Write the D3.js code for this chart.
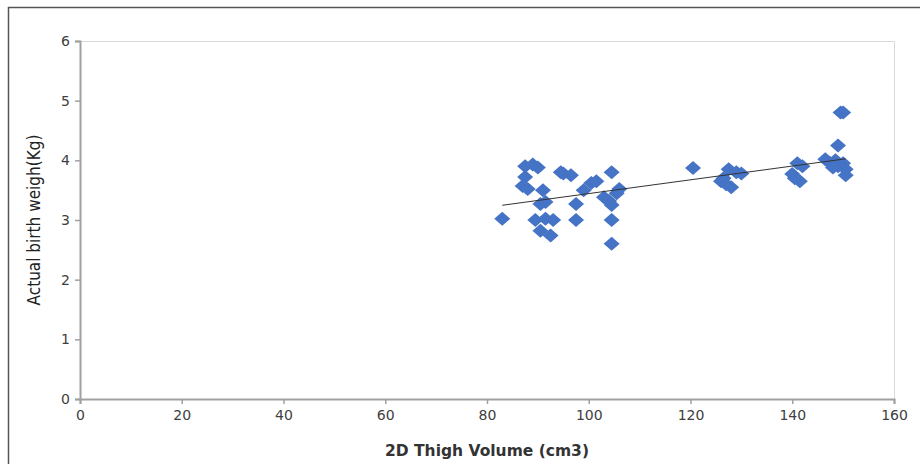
<!DOCTYPE html>
<html>
<head>
<meta charset="utf-8">
<script src="https://cdn.jsdelivr.net/npm/d3@7"></script>
<style>
  body { margin: 0; background: #fff; }
  .tick text { font-family: "DejaVu Sans", Verdana, sans-serif; font-size: 14px; fill: #404040; }
</style>
</head>
<body>
<svg id="chart" width="920" height="464"></svg>
<script>
// thigh volume (cm3) vs actual birth weight (kg)
var volume = [83, 87.5, 89, 90, 87.5, 87, 88, 91, 90.5, 91.5, 89.5, 91.5, 93, 90.5, 92.5,
  94.5, 96.5, 95, 97.5, 97.5, 99, 100.5, 101.5, 104.5, 103, 104, 104.5, 104.5, 104.5, 106, 105.5,
  120.5, 126, 127, 128, 127.5, 129, 130, 126.5,
  140, 141, 142, 141.5, 140.5, 146.5, 147.5, 148.5, 149, 149.5, 150, 150, 150.5, 150.5, 149, 148];
var weight = [3.02, 3.9, 3.93, 3.88, 3.72, 3.57, 3.52, 3.5, 3.27, 3.3, 3.0, 3.02, 3.0, 2.82, 2.74,
  3.8, 3.75, 3.78, 3.27, 3.0, 3.5, 3.62, 3.65, 3.8, 3.38, 3.32, 3.25, 3.0, 2.6, 3.52, 3.45,
  3.87, 3.65, 3.6, 3.55, 3.85, 3.8, 3.78, 3.7,
  3.77, 3.95, 3.9, 3.65, 3.7, 4.02, 3.95, 4.0, 4.25, 4.8, 4.8, 3.95, 3.85, 3.75, 3.9, 3.88];
var xTicks = [0, 20, 40, 60, 80, 100, 120, 140, 160];
var yTicks = [0, 1, 2, 3, 4, 5, 6];

var svg = d3.select("#chart");
var x = d3.scaleLinear().domain([0, 160]).range([80, 894]);
var y = d3.scaleLinear().domain([0, 6]).range([399, 41]);

// outer frame
svg.append("path")
  .attr("d", "M8.5,464 V7.5 H920")
  .attr("fill", "none").attr("stroke", "#555").attr("stroke-width", 1.5);

// plot area border (top / right)
svg.append("path")
  .attr("d", "M" + x(0) + "," + (y(6) + 0.5) + " H" + (x(160) + 0.5) + " V" + y(0))
  .attr("fill", "none").attr("stroke", "#d9d9d9").attr("stroke-width", 1);

var xAxis = svg.append("g")
  .attr("transform", "translate(0," + y(0) + ")")
  .call(d3.axisBottom(x).tickValues(xTicks).tickSize(5).tickPadding(6).tickFormat(d3.format("d")));
var yAxis = svg.append("g")
  .attr("transform", "translate(" + x(0) + ",0)")
  .call(d3.axisLeft(y).tickValues(yTicks).tickSize(5).tickPadding(5).tickFormat(d3.format("d")));
[xAxis, yAxis].forEach(function(a) {
  a.select(".domain").attr("stroke", "#a0a0a0").attr("stroke-width", 2);
  a.selectAll(".tick line").attr("stroke", "#a0a0a0").attr("stroke-width", 1.5);
});

// points
var pts = volume.map(function(v, i) { return [v, weight[i]]; });
svg.append("g").selectAll("path")
  .data(pts)
  .enter().append("path")
  .attr("transform", function(d) { return "translate(" + x(d[0]) + "," + y(d[1]) + ")"; })
  .attr("d", "M0,-7 L8,0 L0,7 L-8,0 Z")
  .attr("fill", "#4573c5");

// linear trend
var mx = d3.mean(volume), my = d3.mean(weight);
var sxy = d3.sum(pts, function(d) { return (d[0] - mx) * (d[1] - my); });
var sxx = d3.sum(volume, function(v) { return (v - mx) * (v - mx); });
var slope = sxy / sxx, icpt = my - slope * mx;
var ext = d3.extent(volume);
svg.append("line")
  .attr("x1", x(ext[0])).attr("y1", y(icpt + slope * ext[0]))
  .attr("x2", x(ext[1])).attr("y2", y(icpt + slope * ext[1]))
  .attr("stroke", "#333").attr("stroke-width", 1);

// axis titles
svg.append("text")
  .attr("x", 487).attr("y", 456)
  .attr("text-anchor", "middle")
  .style("font-family", "'DejaVu Sans', Verdana, sans-serif")
  .style("font-size", "15.5px").style("font-weight", "bold").style("fill", "#333")
  .text("2D Thigh Volume (cm3)");
svg.append("text")
  .attr("transform", "translate(40,220) rotate(-90)")
  .attr("text-anchor", "middle")
  .style("font-family", "'Liberation Sans Narrow', 'DejaVu Sans Condensed', sans-serif")
  .style("font-size", "17px").style("fill", "#222")
  .text("Actual birth weigh(Kg)");
</script>
</body>
</html>
